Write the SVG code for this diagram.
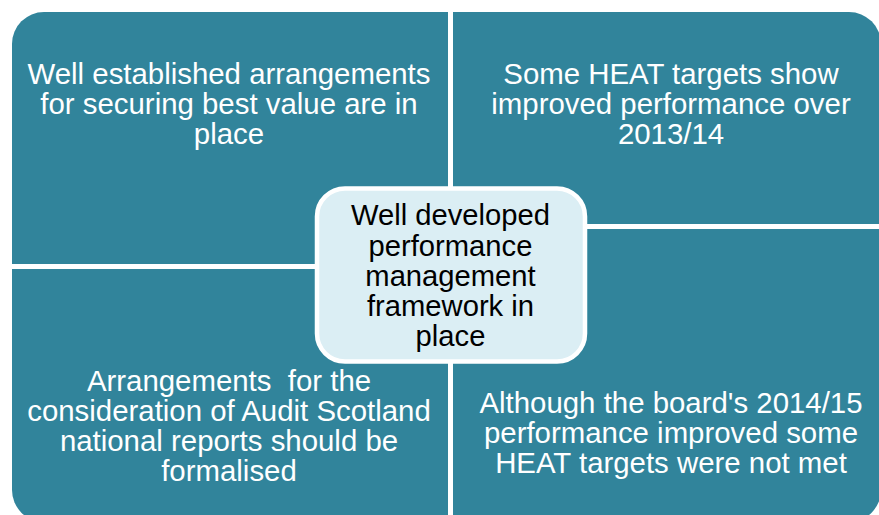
<svg xmlns="http://www.w3.org/2000/svg" width="879" height="515" viewBox="0 0 879 515">
  <style>
    .quad { fill: #31849B; }
    .qtext { font-family: "Liberation Sans", Arial, sans-serif; font-size: 29.4px; fill: #FFFFFF; text-anchor: middle; white-space: pre; }
    .ctext { font-family: "Liberation Sans", Arial, sans-serif; font-size: 29.2px; fill: #000000; text-anchor: middle; }
    .centre { fill: #DBEEF4; stroke: #FFFFFF; stroke-width: 4.5; }
  </style>
  <rect width="879" height="515" fill="#FFFFFF"/>

  <!-- quadrant: top left -->
  <g id="q-top-left">
    <path class="quad" d="M12,44 A32,32 0 0 1 44,12 L448,12 L448,264 L12,264 Z"/>
    <text class="qtext" x="229" y="84">Well established arrangements</text>
    <text class="qtext" x="229" y="114">for securing best value are in</text>
    <text class="qtext" x="229" y="144">place</text>
  </g>

  <!-- quadrant: top right -->
  <g id="q-top-right">
    <path class="quad" d="M453,12 L849,12 A32,32 0 0 1 881,44 L881,224 L453,224 Z"/>
    <text class="qtext" x="671" y="84">Some HEAT targets show</text>
    <text class="qtext" x="671" y="114">improved performance over</text>
    <text class="qtext" x="671" y="144">2013/14</text>
  </g>

  <!-- quadrant: bottom left -->
  <g id="q-bottom-left">
    <path class="quad" d="M12,269 L448,269 L448,522 L44,522 A32,32 0 0 1 12,490 Z"/>
    <text class="qtext" x="229" y="391">Arrangements  for the</text>
    <text class="qtext" x="229" y="421">consideration of Audit Scotland</text>
    <text class="qtext" x="229" y="451">national reports should be</text>
    <text class="qtext" x="229" y="481">formalised</text>
  </g>

  <!-- quadrant: bottom right -->
  <g id="q-bottom-right">
    <path class="quad" d="M453,229 L881,229 L881,490 A32,32 0 0 1 849,522 L453,522 Z"/>
    <text class="qtext" x="671" y="413">Although the board's 2014/15</text>
    <text class="qtext" x="671" y="443">performance improved some</text>
    <text class="qtext" x="671" y="473">HEAT targets were not met</text>
  </g>

  <!-- central summary -->
  <g id="centre">
    <rect class="centre" x="317" y="188.5" width="268" height="173" rx="28" ry="28"/>
    <text class="ctext" x="450.5" y="225">Well developed</text>
    <text class="ctext" x="450.5" y="256">performance</text>
    <text class="ctext" x="450.5" y="286">management</text>
    <text class="ctext" x="450.5" y="316">framework in</text>
    <text class="ctext" x="450.5" y="346">place</text>
  </g>

  <g id="connectors"></g>
</svg>
